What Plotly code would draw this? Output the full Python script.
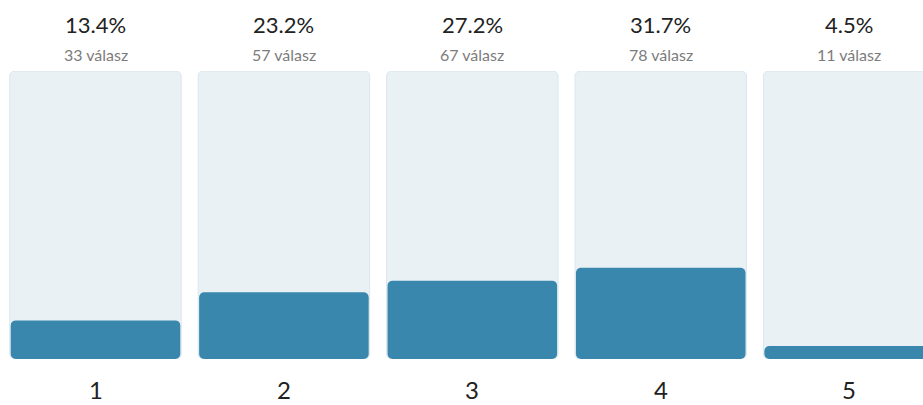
import plotly.graph_objects as go

# ── Data ──────────────────────────────────────────────────────────────────────
options = ["1", "2", "3", "4", "5"]
answers = [33, 57, 67, 78, 11]
shares  = [13.4, 23.2, 27.2, 31.7, 4.5]
full    = [100] * len(options)

# ── Theme ─────────────────────────────────────────────────────────────────────
_BLUE  = "#3a87ae"
_TRACK = "#e9f1f5"
_EDGE  = "#dae7ee"
_DARK  = "#222222"
_GREY  = "#7c7c7c"
_FONT  = "Lato, 'Open Sans', sans-serif"

xs = list(range(len(options)))

fig = go.Figure()
# explicit base=0 makes plotly round all four corners
fig.add_trace(go.Bar(
    x=xs, y=full, base=[0] * len(xs), width=0.91,
    marker=dict(color=_TRACK, line=dict(width=1, color=_EDGE), cornerradius=5),
    hoverinfo="skip",
))
fig.add_trace(go.Bar(
    x=xs, y=shares, base=[0] * len(xs), width=0.9,
    marker=dict(color=_BLUE, line=dict(width=0), cornerradius=5),
    customdata=answers,
    hovertemplate="%{y:.1f}%<br>%{customdata} válasz<extra></extra>",
))

for x, opt, n, p in zip(xs, options, answers, shares):
    fig.add_annotation(x=x, y=1, yref="paper", text=f"{p:.1f}%", showarrow=False,
                       yanchor="middle", yshift=47,
                       font=dict(family=_FONT, size=22, color=_DARK))
    fig.add_annotation(x=x, y=1, yref="paper", text=f"{n} válasz", showarrow=False,
                       yanchor="middle", yshift=17,
                       font=dict(family=_FONT, size=16, color=_GREY))
    fig.add_annotation(x=x, y=0, yref="paper", text=opt, showarrow=False,
                       yanchor="middle", yshift=-30,
                       font=dict(family=_FONT, size=24, color=_DARK))

fig.update_layout(
    width=923, height=405,
    barmode="overlay",
    paper_bgcolor="white", plot_bgcolor="white",
    margin=dict(l=1, r=0, t=71, b=46),
    xaxis=dict(range=[-0.5016, 4.392], visible=False, fixedrange=True),
    yaxis=dict(range=[0, 100], visible=False, fixedrange=True),
    showlegend=False,
)

# drop the default 8px body margin so the figure fills the window
fig.write_html(
    "out.html",
    config={"displayModeBar": False},
    post_script="document.body.style.margin='0';document.body.style.overflow='hidden';",
)
